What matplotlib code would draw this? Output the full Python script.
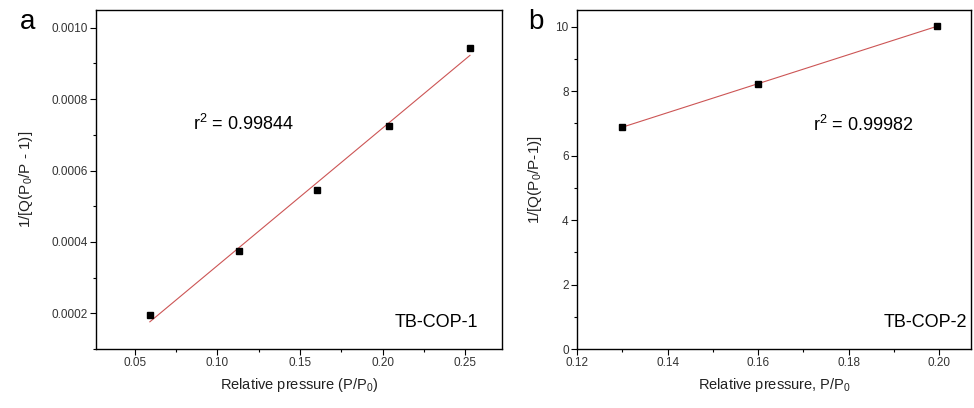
import numpy as np
import matplotlib.pyplot as plt
from matplotlib.ticker import MultipleLocator, FormatStrFormatter

# data
x_a = [0.059, 0.113, 0.160, 0.204, 0.253]
y_a = [0.000194, 0.000376, 0.000545, 0.000724, 0.000943]
x_b = [0.130, 0.160, 0.1995]
y_b = [6.89, 8.22, 10.02]
r2_a = '0.99844'
r2_b = '0.99982'

plt.rcParams['font.family'] = ['Liberation Sans', 'DejaVu Sans']
plt.rcParams['mathtext.default'] = 'regular'

fig = plt.figure(figsize=(9.74, 4.08), dpi=100)
ax1 = fig.add_axes([0.0986, 0.1446, 0.4168, 0.831])
ax2 = fig.add_axes([0.5924, 0.1446, 0.4046, 0.831])

tick_col = '#333333'

def style(ax):
    for s in ax.spines.values():
        s.set_linewidth(1.0)
    ax.tick_params(which='major', direction='out', length=4, width=0.8,
                   labelsize=8.5, colors='black', labelcolor=tick_col, pad=2)
    ax.tick_params(which='minor', direction='out', length=2.5, width=0.8)
    ax.tick_params(top=False, right=False)

# panel a
coef = np.polyfit(x_a, y_a, 1)
xf = np.array([min(x_a), max(x_a)])
ax1.plot(xf, np.polyval(coef, xf), color='#cc5555', lw=0.8)
ax1.plot(x_a, y_a, 's', color='black', ms=5)
ax1.set_xlim(0.0264, 0.2724)
ax1.set_ylim(0.0001, 0.00105)
ax1.xaxis.set_major_locator(MultipleLocator(0.05))
ax1.xaxis.set_minor_locator(MultipleLocator(0.025))
ax1.yaxis.set_major_locator(MultipleLocator(0.0002))
ax1.yaxis.set_minor_locator(MultipleLocator(0.0001))
ax1.xaxis.set_major_formatter(FormatStrFormatter('%.2f'))
ax1.yaxis.set_major_formatter(FormatStrFormatter('%.4f'))
style(ax1)
ax1.set_xlabel('Relative pressure (P/P$_0$)', fontsize=10.5, color='#222222', labelpad=5)
ax1.set_ylabel('1/[Q(P$_0$/P - 1)]', fontsize=11, color='#222222', labelpad=12)
ax1.text(0.24, 0.665, '$r^2$ = ' + r2_a, transform=ax1.transAxes, fontsize=13, va='center')
ax1.text(0.94, 0.077, 'TB-COP-1', transform=ax1.transAxes, fontsize=13, ha='right', va='center')
fig.text(0.028, 0.945, 'a', fontsize=20, va='center', ha='center')

# panel b
coef = np.polyfit(x_b, y_b, 1)
xf = np.array([min(x_b), max(x_b)])
ax2.plot(xf, np.polyval(coef, xf), color='#cc5555', lw=0.8)
ax2.plot(x_b, y_b, 's', color='black', ms=5)
ax2.set_xlim(0.12, 0.207)
ax2.set_ylim(0, 10.52)
ax2.xaxis.set_major_locator(MultipleLocator(0.02))
ax2.xaxis.set_minor_locator(MultipleLocator(0.01))
ax2.yaxis.set_major_locator(MultipleLocator(2))
ax2.yaxis.set_minor_locator(MultipleLocator(1))
ax2.xaxis.set_major_formatter(FormatStrFormatter('%.2f'))
style(ax2)
ax2.set_xlabel('Relative pressure, P/P$_0$', fontsize=10.5, color='#222222', labelpad=5)
ax2.set_ylabel('1/[Q(P$_0$/P-1)]', fontsize=11, color='#222222', labelpad=8)
ax2.text(0.60, 0.66, '$r^2$ = ' + r2_b, transform=ax2.transAxes, fontsize=13, va='center')
ax2.text(0.99, 0.077, 'TB-COP-2', transform=ax2.transAxes, fontsize=13, ha='right', va='center')
fig.text(0.55, 0.945, 'b', fontsize=20, va='center', ha='center')

fig.savefig('out.png', dpi=100)
